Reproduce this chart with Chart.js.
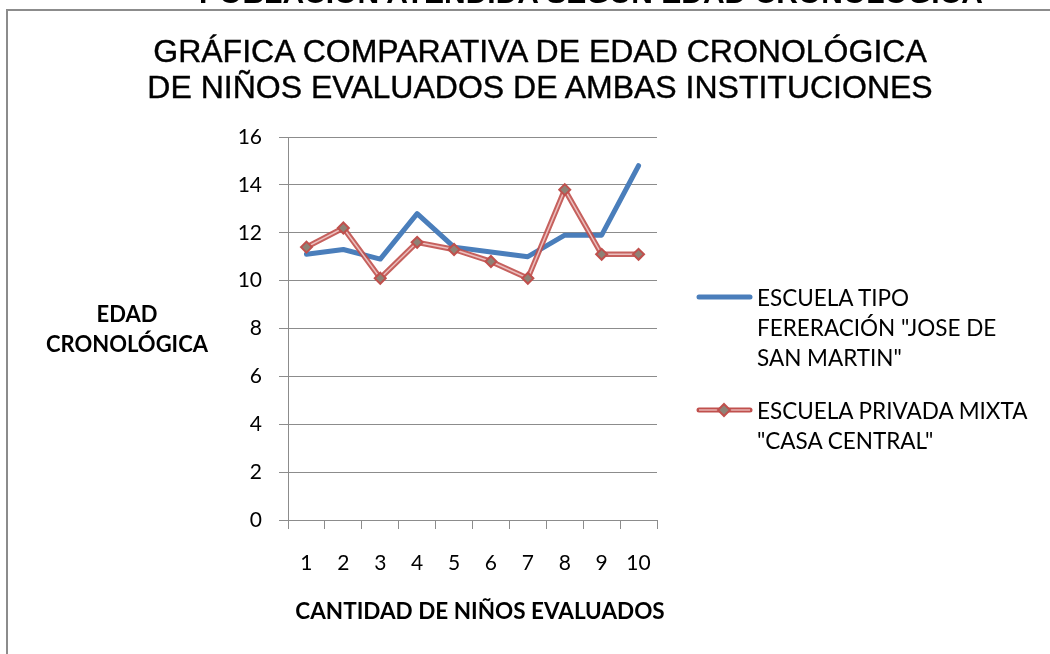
<!DOCTYPE html>
<html>
<head>
<meta charset="utf-8">
<script src="https://cdn.jsdelivr.net/npm/chart.js@4"></script>
<style>
  body { margin: 0; width: 1050px; height: 654px; background: #fff; overflow: hidden; position: relative; }
  #frame { position: absolute; left: 6px; top: 9px; width: 1100px; height: 700px; border-left: 2.5px solid #8c8c8c; border-top: 2.5px solid #8c8c8c; }
  #chart { position: absolute; left: 0; top: 0; }
  .txt { position: absolute; white-space: nowrap; color: #000; }
  #topTitle { left: 0; width: 1182px; top: -22px; text-align: center; font: bold 30px/30px "Liberation Sans", Arial, sans-serif; }
  #title { left: 0; width: 1080px; top: 33px; text-align: center; font: 32px/36px "Liberation Sans", Arial, sans-serif; -webkit-text-stroke: 0.4px #000; }
  #yTitle { left: 27px; width: 200px; top: 299px; text-align: center; font: bold 22px/30px Lato, sans-serif; }
  #xTitle { left: 280px; width: 400px; top: 596px; text-align: center; font: bold 22.5px/30px Lato, sans-serif; }
  .leg { font: 22.5px/30px Lato, sans-serif; left: 757px; }
  .mark { position: absolute; }
</style>
</head>
<body>
<div id="frame"></div>
<canvas id="chart" width="1050" height="654"></canvas>
<div class="txt" id="topTitle">POBLACIÓN ATENDIDA SEGÚN EDAD CRONOLÓGICA</div>
<div class="txt" id="title">GRÁFICA COMPARATIVA DE EDAD CRONOLÓGICA<br>DE NIÑOS EVALUADOS DE AMBAS INSTITUCIONES</div>
<div class="txt" id="yTitle">EDAD<br>CRONOLÓGICA</div>
<div class="txt" id="xTitle">CANTIDAD DE NIÑOS EVALUADOS</div>
<svg class="mark" style="left:696px;top:290px" width="60" height="14">
  <line x1="3" y1="7" x2="54" y2="7" stroke="#4a7ebb" stroke-width="5" stroke-linecap="round"/>
</svg>
<div class="txt leg" style="top:283px">ESCUELA TIPO<br>FERERACIÓN "JOSE DE<br>SAN MARTIN"</div>
<svg class="mark" style="left:696px;top:400px" width="60" height="20">
  <line x1="3" y1="10" x2="54" y2="10" stroke="#c0504d" stroke-width="5" stroke-linecap="round"/>
  <line x1="3" y1="10" x2="54" y2="10" stroke="#e8b4b3" stroke-width="1.5"/>
  <polygon points="28,4 34,10 28,16 22,10" fill="#8e8276" stroke="#c0504d" stroke-width="2"/>
</svg>
<div class="txt leg" style="top:396px">ESCUELA PRIVADA MIXTA<br>"CASA CENTRAL"</div>
<script>
const categories = ['1', '2', '3', '4', '5', '6', '7', '8', '9', '10'];
const escuelaFederacion = [11.1, 11.3, 10.9, 12.8, 11.4, 11.2, 11.0, 11.9, 11.9, 14.8];
const escuelaPrivada = [11.4, 12.2, 10.1, 11.6, 11.3, 10.8, 10.1, 13.8, 11.1, 11.1];
const yTicks = [0, 2, 4, 6, 8, 10, 12, 14, 16];

const gray = '#8c8c8c';
const tickFont = { family: 'Lato', size: 21 };

new Chart(document.getElementById('chart'), {
  type: 'line',
  data: {
    labels: categories,
    datasets: [
      {
        label: 'ESCUELA TIPO FERERACIÓN "JOSE DE SAN MARTIN"',
        data: escuelaFederacion,
        borderColor: '#4a7ebb',
        borderWidth: 5,
        pointRadius: 0,
        borderJoinStyle: 'round',
        borderCapStyle: 'round',
        order: 4
      },
      {
        label: 'ESCUELA PRIVADA MIXTA "CASA CENTRAL"',
        data: escuelaPrivada,
        borderColor: 'rgba(192,80,77,0.9)',
        borderWidth: 5.5,
        pointRadius: 0,
        borderJoinStyle: 'round',
        order: 3
      },
      {
        // franja clara de la linea doble
        data: escuelaPrivada,
        borderColor: '#ecc0bf',
        borderWidth: 1.5,
        pointRadius: 0,
        order: 2
      },
      {
        // marcadores rombo
        data: escuelaPrivada,
        showLine: false,
        pointStyle: 'rectRot',
        pointRadius: 5.5,
        pointBackgroundColor: '#8e8276',
        pointBorderColor: '#c0504d',
        pointBorderWidth: 2,
        order: 1
      }
    ]
  },
  options: {
    responsive: false,
    animation: false,
    devicePixelRatio: 1,
    layout: { padding: { top: 137, left: 0, right: 393, bottom: 0 } },
    plugins: { legend: { display: false }, title: { display: false }, tooltip: { enabled: false } },
    scales: {
      x: {
        offset: true,
        grid: { offset: true, drawOnChartArea: false, drawTicks: true, tickLength: 9, color: gray, lineWidth: 1 },
        border: { display: false },
        ticks: { color: '#000', font: tickFont, padding: 22, maxRotation: 0 },
        afterFit: s => { s.height = 134; }
      },
      y: {
        min: 0,
        max: 16,
        afterBuildTicks: s => { s.ticks = yTicks.map(v => ({ value: v })); },
        grid: { color: gray, lineWidth: 1, tickLength: 9 },
        border: { display: true, color: gray, width: 1 },
        ticks: { color: '#000', font: tickFont, padding: 17 },
        afterFit: s => { s.width = 288; }
      }
    }
  }
});
</script>
</body>
</html>
